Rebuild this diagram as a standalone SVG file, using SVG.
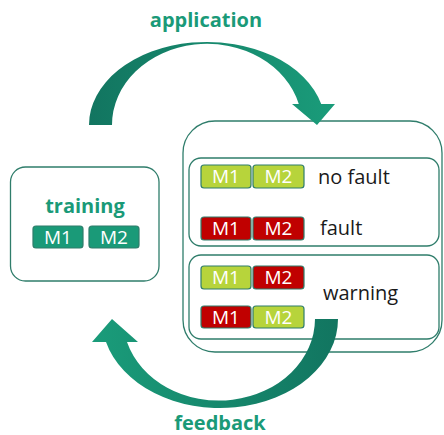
<svg xmlns="http://www.w3.org/2000/svg" width="444" height="435" viewBox="0 0 444 435">
<defs>
<linearGradient id="gTop" x1="89" y1="0" x2="335" y2="0" gradientUnits="userSpaceOnUse">
<stop offset="0" stop-color="#127560"/><stop offset="1" stop-color="#1a9c7a"/>
</linearGradient>
<linearGradient id="gBot" x1="338" y1="0" x2="92" y2="0" gradientUnits="userSpaceOnUse">
<stop offset="0" stop-color="#127560"/><stop offset="1" stop-color="#1a9c7a"/>
</linearGradient>
<style>
.box{fill:#fff;stroke:#2f7d6b;stroke-width:1.3}
.title{font-family:"Open Sans","Noto Sans",sans-serif;font-weight:bold;font-size:20px;fill:#1a9a78;text-anchor:middle}
.lbl{font-family:"Open Sans","Noto Sans",sans-serif;font-size:20px;fill:#1a1a1a}
.badge{stroke:#2f7d6b;stroke-width:1.2}
.teal{fill:#1a9a78}
.ok{fill:#b7d43b}
.bad{fill:#c00000}
.bt{font-family:"Open Sans","Noto Sans",sans-serif;font-size:19px;fill:#fff;text-anchor:middle}
</style>
</defs>
<g id="results">
<rect class="box" x="183" y="121" width="259" height="231" rx="32"/>
</g>
<g id="training">
<rect class="box" x="10.5" y="167" width="148.5" height="114" rx="15"/>
<text class="title" x="85" y="213">training</text>
<rect class="badge teal" x="33" y="226" width="50" height="22" rx="3"/>
<text class="bt" x="58" y="244">M1</text>
<rect class="badge teal" x="89" y="226" width="50" height="22" rx="3"/>
<text class="bt" x="114" y="244">M2</text>
</g>
<g id="faultbox">
<rect class="box" x="189" y="158" width="250" height="88" rx="12"/>
<rect class="badge ok" x="201" y="165" width="50" height="23" rx="3"/>
<text class="bt" x="226" y="183">M1</text>
<rect class="badge ok" x="253" y="165" width="51" height="23" rx="3"/>
<text class="bt" x="278.5" y="183">M2</text>
<text class="lbl" x="318" y="184">no fault</text>
<rect class="badge bad" x="201" y="217" width="50" height="23" rx="3"/>
<text class="bt" x="226" y="235">M1</text>
<rect class="badge bad" x="253" y="217" width="51" height="23" rx="3"/>
<text class="bt" x="278.5" y="235">M2</text>
<text class="lbl" x="320" y="235">fault</text>
</g>
<g id="warningbox">
<rect class="box" x="189" y="255" width="250" height="84" rx="12"/>
<rect class="badge ok" x="201" y="266" width="50" height="23" rx="3"/>
<text class="bt" x="226" y="284">M1</text>
<rect class="badge bad" x="253" y="266" width="51" height="23" rx="3"/>
<text class="bt" x="278.5" y="284">M2</text>
<rect class="badge bad" x="201" y="306" width="50" height="22" rx="3"/>
<text class="bt" x="226" y="323.5">M1</text>
<rect class="badge ok" x="253" y="306" width="51" height="22" rx="3"/>
<text class="bt" x="278.5" y="323.5">M2</text>
<text class="lbl" x="323" y="300">warning</text>
</g>
<g id="connectors">
<path fill="url(#gTop)" d="M89,125 A118,83 0 0 1 321.2,104 L335,104 L317,125 L292,104 L298.8,104 A95,81 0 0 0 112,125 Z"/>
<path fill="url(#gBot)" d="M338,319 A118,89 0 0 1 106,342 L92,342 L112,319 L138,342 L127,342 A96,82 0 0 0 315,319 Z"/>
<text class="title" x="206" y="27">application</text>
<text class="title" x="220" y="430">feedback</text>
</g>
</svg>
